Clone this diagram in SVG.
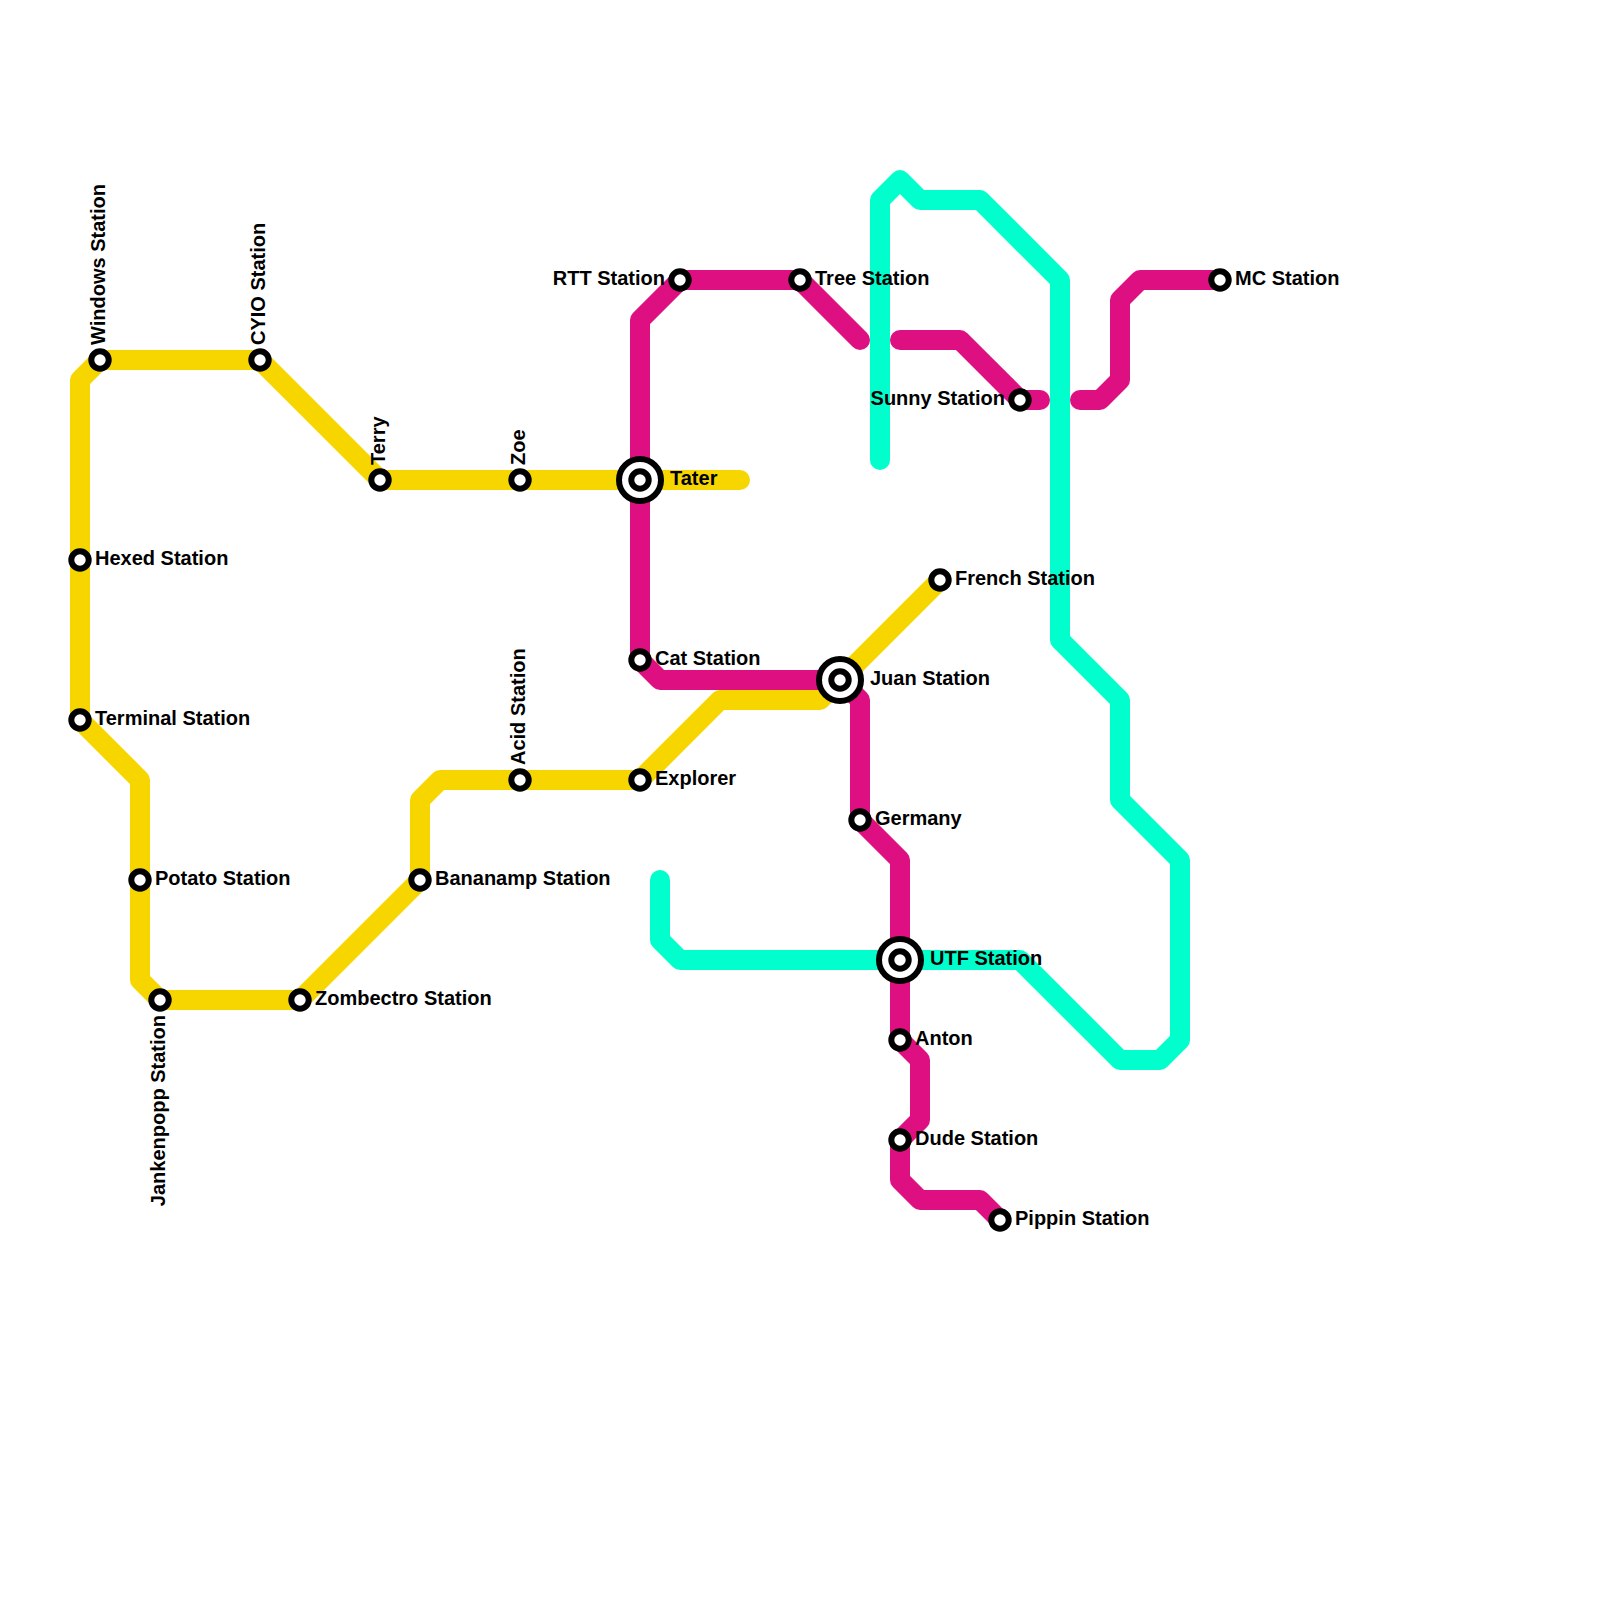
<svg xmlns="http://www.w3.org/2000/svg" width="1600" height="1600" viewBox="0 0 1600 1600">
<style>
.line{fill:none;stroke-width:20;stroke-linecap:round;stroke-linejoin:round}
.st{fill:#fff;stroke:#000;stroke-width:6}
.ring{fill:#fff;stroke:#000;stroke-width:6}
text{font-family:"Liberation Sans",Arial,sans-serif;font-weight:bold;font-size:20px;fill:#000}
.e{text-anchor:end}
</style>
<rect width="1600" height="1600" fill="#fff"/>
<g id="connectors">
<path class="line" stroke="#f7d600" d="M940 580L840 680L820 700H720L640 780H440L420 800V880L300 1000H160L140 980V780L80 720V380L100 360H260L380 480H740"/>
<path class="line" stroke="#de1081" d="M1220 280H1140L1120 300V380L1100 400H1080"/>
<path class="line" stroke="#de1081" d="M1040 400H1020L960 340H900"/>
<path class="line" stroke="#de1081" d="M860 340L800 280H680L640 320V660L660 680H840L860 700V820L900 860V1040L920 1060V1120L900 1140V1180L920 1200H980L1000 1220"/>
<path class="line" stroke="#00ffcc" d="M880 460V200L900 180L920 200H980L1060 280V640L1120 700V800L1180 860V1040L1160 1060H1120L1020 960H680L660 940V880"/>
</g>
<g id="windows"><circle class="st" cx="100" cy="360" r="8.7"/><text transform="translate(105 345) rotate(-90)">Windows Station</text></g>
<g id="cyio"><circle class="st" cx="260" cy="360" r="8.7"/><text transform="translate(265 345) rotate(-90)">CYIO Station</text></g>
<g id="terry"><circle class="st" cx="380" cy="480" r="8.7"/><text transform="translate(385 465) rotate(-90)">Terry</text></g>
<g id="zoe"><circle class="st" cx="520" cy="480" r="8.7"/><text transform="translate(525 465) rotate(-90)">Zoe</text></g>
<g id="tater"><circle class="ring" cx="640" cy="480" r="21"/><circle class="st" cx="640" cy="480" r="8.7"/><text x="670" y="485">Tater</text></g>
<g id="hexed"><circle class="st" cx="80" cy="560" r="8.7"/><text x="95" y="565">Hexed Station</text></g>
<g id="terminal"><circle class="st" cx="80" cy="720" r="8.7"/><text x="95" y="725">Terminal Station</text></g>
<g id="potato"><circle class="st" cx="140" cy="880" r="8.7"/><text x="155" y="885">Potato Station</text></g>
<g id="jankenpopp"><circle class="st" cx="160" cy="1000" r="8.7"/><text class="e" transform="translate(165 1015) rotate(-90)">Jankenpopp Station</text></g>
<g id="zombectro"><circle class="st" cx="300" cy="1000" r="8.7"/><text x="315" y="1005">Zombectro Station</text></g>
<g id="bananamp"><circle class="st" cx="420" cy="880" r="8.7"/><text x="435" y="885">Bananamp Station</text></g>
<g id="acid"><circle class="st" cx="520" cy="780" r="8.7"/><text transform="translate(525 765) rotate(-90)">Acid Station</text></g>
<g id="explorer"><circle class="st" cx="640" cy="780" r="8.7"/><text x="655" y="785">Explorer</text></g>
<g id="rtt"><circle class="st" cx="680" cy="280" r="8.7"/><text class="e" x="665" y="285">RTT Station</text></g>
<g id="tree"><circle class="st" cx="800" cy="280" r="8.7"/><text x="815" y="285">Tree Station</text></g>
<g id="sunny"><circle class="st" cx="1020" cy="400" r="8.7"/><text class="e" x="1005" y="405">Sunny Station</text></g>
<g id="mc"><circle class="st" cx="1220" cy="280" r="8.7"/><text x="1235" y="285">MC Station</text></g>
<g id="french"><circle class="st" cx="940" cy="580" r="8.7"/><text x="955" y="585">French Station</text></g>
<g id="cat"><circle class="st" cx="640" cy="660" r="8.7"/><text x="655" y="665">Cat Station</text></g>
<g id="juan"><circle class="ring" cx="840" cy="680" r="21"/><circle class="st" cx="840" cy="680" r="8.7"/><text x="870" y="685">Juan Station</text></g>
<g id="germany"><circle class="st" cx="860" cy="820" r="8.7"/><text x="875" y="825">Germany</text></g>
<g id="utf"><circle class="ring" cx="900" cy="960" r="21"/><circle class="st" cx="900" cy="960" r="8.7"/><text x="930" y="965">UTF Station</text></g>
<g id="anton"><circle class="st" cx="900" cy="1040" r="8.7"/><text x="915" y="1045">Anton</text></g>
<g id="dude"><circle class="st" cx="900" cy="1140" r="8.7"/><text x="915" y="1145">Dude Station</text></g>
<g id="pippin"><circle class="st" cx="1000" cy="1220" r="8.7"/><text x="1015" y="1225">Pippin Station</text></g>
</svg>
